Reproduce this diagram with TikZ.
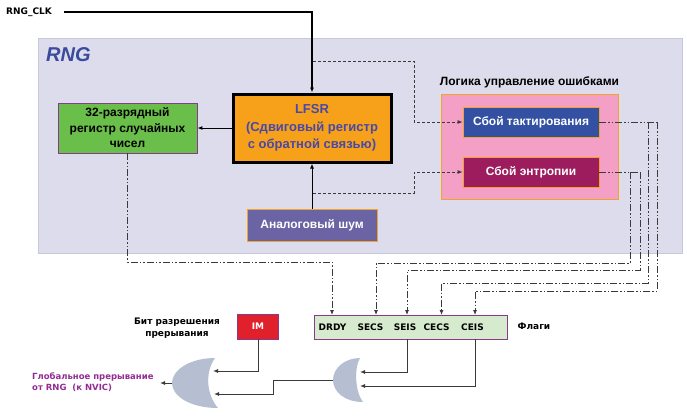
\documentclass[tikz,border=0pt]{standalone}
\usepackage{fontspec}
\setmainfont{Liberation Sans}
\newfontfamily\vfont{DejaVu Sans}
\usetikzlibrary{arrows.meta}
\definecolor{bgc}{HTML}{DCDCEC}
\definecolor{bgb}{HTML}{C8C8DA}
\definecolor{greenc}{HTML}{6ABF4B}
\definecolor{purpb}{HTML}{8A3A8A}
\definecolor{orangec}{HTML}{F7A11A}
\definecolor{lfsrt}{HTML}{4848A8}
\definecolor{noisec}{HTML}{6A64A4}
\definecolor{orb}{HTML}{F0A428}
\definecolor{pinkc}{HTML}{F4A0C6}
\definecolor{tactc}{HTML}{3350A2}
\definecolor{entrc}{HTML}{9C1C5E}
\definecolor{flagc}{HTML}{D6EBCD}
\definecolor{imc}{HTML}{E0202A}
\definecolor{gatec}{HTML}{B6BED2}
\definecolor{gintc}{HTML}{942C94}
\definecolor{rngc}{HTML}{3A4A9C}
\definecolor{linec}{HTML}{3A3A3A}
\tikzset{
  box/.style={inner sep=0pt, line width=0.8pt, align=center, font=\bfseries\fontsize{12}{15.5}\selectfont},
  arr/.style={line width=1pt, -{Latex[length=5pt,width=4pt]}},
  dsh/.style={line width=0.8pt, linec, dash pattern=on 3pt off 2pt, -{Latex[length=5pt,width=4pt]}},
  ddot/.style={line width=0.8pt, linec, dash pattern=on 7pt off 2pt on 1.5pt off 2pt on 1.5pt off 2pt},
  ddarr/.style={ddot, -{Latex[length=5pt,width=4pt]}},
  vtxt/.style={inner sep=0pt, font=\vfont\bfseries\fontsize{9}{12}\selectfont},
  gate/.style={fill=gatec, draw=none}
}
\begin{document}
\begin{tikzpicture}[x=1pt,y=-1pt]
\useasboundingbox (0,0) rectangle (687,418);
\fill[white] (0,0) rectangle (687,418);
% background RNG block
\draw[fill=bgc, draw=bgb, line width=0.8pt] (38,38) rectangle (682,253);
\node[inner sep=0pt, anchor=west, text=rngc, font=\bfseries\itshape\fontsize{20}{24}\selectfont] (rng) at (46,55) {RNG};
% main boxes
\node[box, fill=greenc, draw=purpb, minimum width=139pt, minimum height=50pt] (reg) at (127.5,128) {32-разрядный\\регистр случайных\\чисел};
\node[box, fill=orangec, draw=black, line width=3pt, minimum width=158pt, minimum height=68pt, text=lfsrt, font=\bfseries\fontsize{13}{17.5}\selectfont] (lfsr) at (312,128) {LFSR\\(Сдвиговый регистр\\с обратной связью)};
\node[box, fill=noisec, draw=orb, text=white, minimum width=130pt, minimum height=32pt] (noise) at (312,225) {Аналоговый шум};
\node[box, fill=pinkc, draw=orb, minimum width=177pt, minimum height=105pt] (pink) at (529.5,146.5) {};
\node[inner sep=0pt, font=\bfseries\fontsize{12}{14}\selectfont] (logic) at (529.5,82) {Логика управление ошибками};
\node[box, fill=tactc, draw=orb, text=white, minimum width=136pt, minimum height=30pt] (tact) at (531,122) {Сбой тактирования};
\node[box, fill=entrc, draw=orb, text=white, minimum width=136pt, minimum height=30pt] (entr) at (531,172) {Сбой энтропии};
% clock
\node[vtxt, anchor=west] (clk) at (6,12) {RNG\_CLK};
\draw[arr, line width=1.3pt] ([xshift=12pt]clk.east) -| (lfsr.north);
\draw[arr] (lfsr.west) -- (reg.east);
\draw[arr] (noise.north) -- (lfsr.south);
\coordinate (clktap) at (313,61);
\coordinate (noisetap) at (313,193);
\draw[dsh] (clktap) -- (414,61) |- (tact.west);
\draw[dsh] (noisetap) -- (414,193) |- (entr.west);
% flags
\node[box, fill=flagc, draw=purpb, minimum width=193pt, minimum height=24pt] (flags) at (410.5,327) {};
\node[vtxt] (tDRDY) at (332.5,327) {DRDY};
\node[vtxt] (tSECS) at (370.5,327) {SECS};
\node[vtxt] (tSEIS) at (405,327) {SEIS};
\node[vtxt] (tCECS) at (436.5,327) {CECS};
\node[vtxt] (tCEIS) at (472.5,327) {CEIS};
\node[vtxt] (flg) at (534,326) {Флаги};
\coordinate (pDRDY) at (332,315);
\coordinate (pSECS) at (376,315);
\coordinate (pSEIS) at (407,315);
\coordinate (pCECS) at (441.5,315);
\coordinate (pCEIS) at (475,315);
\draw[ddarr] (reg.south) |- (332,262) -- (pDRDY);
\draw[ddot] (entr.east) -- (640,172);
\draw[ddarr] (640,172) |- (407,270) -- (pSEIS);
\draw[ddarr] (630,172) |- (376,263) -- (pSECS);
\draw[ddot] (tact.east) -- (657,122);
\draw[ddarr] (657,122) |- (475,291) -- (pCEIS);
\draw[ddarr] (648,122) |- (441.5,283) -- (pCECS);
% IM and labels
\node[box, fill=imc, draw=purpb, text=white, minimum width=41pt, minimum height=25pt, font=\vfont\bfseries\fontsize{9}{12}\selectfont] (im) at (258,326.5) {IM};
\node[vtxt, align=center] (bit) at (177,328) {Бит разрешения\\прерывания};
\node[inner sep=0pt, anchor=west, align=left, text=gintc, font=\vfont\bfseries\fontsize{8.5}{11}\selectfont] (gint) at (32,382) {Глобальное прерывание\\от RNG~~(к NVIC)};
% gates
\fill[gate] (215,358) .. controls (190,358) and (172,370) .. (172,383) .. controls (172,396) and (190,408) .. (218,408) .. controls (206,394) and (205,372) .. (215,358);
\fill[gate] (360,358) .. controls (345,358) and (333,368) .. (333,380) .. controls (333,392) and (345,402) .. (363,402) .. controls (355,392) and (354,368) .. (360,358);
\coordinate (g1in1) at (213,371);
\coordinate (g1in2) at (214,394);
\coordinate (g1out) at (172,383);
\coordinate (g1end) at (160,383);
\coordinate (g2in1) at (360,372);
\coordinate (g2in2) at (360,386);
\coordinate (g2out) at (333,380);
\coordinate (sSEIS) at (407,339);
\coordinate (sCEIS) at (475,339);
\draw[arr, linec] (sSEIS) |- (g2in1);
\draw[arr, linec] (sCEIS) |- (g2in2);
\draw[arr, linec] (im.south) |- (g1in1);
\draw[arr, linec] (g2out) -- (273,380) |- (g1in2);
\draw[arr, linec] (g1out) -- (g1end);
\end{tikzpicture}
\end{document}
